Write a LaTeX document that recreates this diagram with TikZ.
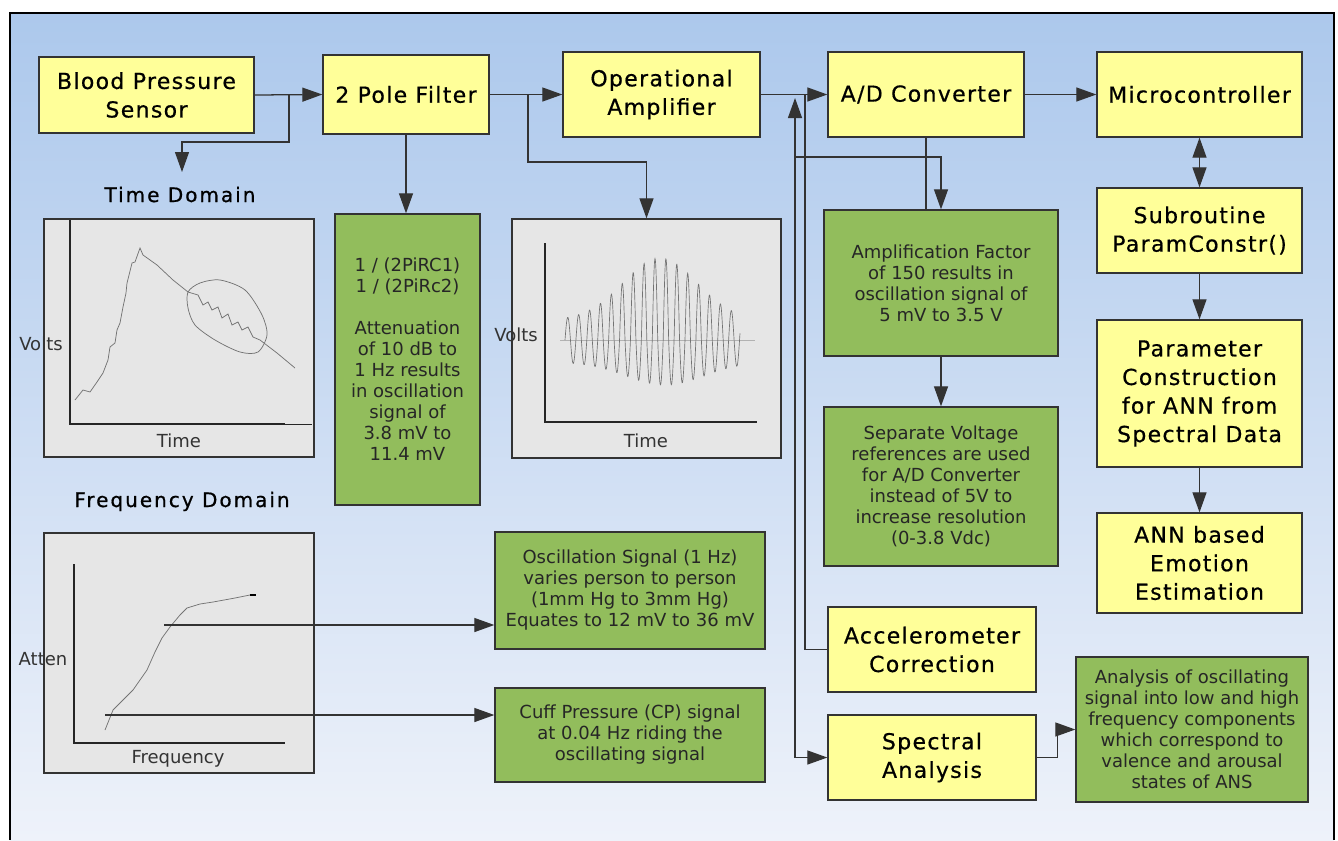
\documentclass[tikz,border=0pt]{standalone}
\usepackage{fontspec}
\setmainfont{DejaVu Sans}
\newfontfamily\blockfont[LetterSpace=6,FakeBold=0.6]{DejaVu Sans}
\newfontfamily\headfont[LetterSpace=10,FakeBold=0.8]{DejaVu Sans}
\usetikzlibrary{arrows.meta}
\definecolor{bgtop}{RGB}{172,200,236}
\definecolor{bgbot}{RGB}{238,242,250}
\definecolor{yellowbox}{RGB}{255,255,153}
\definecolor{greenbox}{RGB}{146,189,92}
\definecolor{plotgrey}{RGB}{230,230,230}
\definecolor{boxline}{RGB}{51,51,51}
\tikzset{
BLOCK/.style 2 args={draw=boxline, fill=yellowbox, line width=1pt, minimum width=#1*0.75pt, minimum height=#2*0.75pt, inner sep=0pt, align=center, font=\blockfont\fontsize{16.5}{21.4}\selectfont},
NOTE/.style 2 args={draw=boxline, fill=greenbox, line width=1pt, minimum width=#1*0.75pt, minimum height=#2*0.75pt, inner sep=0pt, align=center, text=black!85, font=\fontsize{13.5}{15.75}\selectfont},
PLOT/.style 2 args={draw=boxline, fill=plotgrey, line width=1pt, minimum width=#1*0.75pt, minimum height=#2*0.75pt, inner sep=0pt},
HEAD/.style={anchor=base, font=\headfont\fontsize{15}{18}\selectfont},
LABEL/.style={anchor=base, text=boxline, font=\fontsize{13.5}{16}\selectfont},
WIRE/.style={draw=black!80, line width=0.95pt},
ARROW/.style={WIRE, -{Triangle[length=15pt,width=10.5pt]}},
BOTH/.style={WIRE, {Triangle[length=15pt,width=10.5pt]}-{Triangle[length=15pt,width=10.5pt]}},
AXIS/.style={draw=black!85, line width=1pt},
CURVE/.style={draw=black!55, line width=0.55pt},
}

\begin{document}
\begin{tikzpicture}[x=0.75pt, y=-0.75pt] %pressure sensor to emotion estimate
	\useasboundingbox (0,0) rectangle (1338,840);
	\shade[top color=bgtop, bottom color=bgbot] (10,13) rectangle (1334,840);
	\path[draw=black, line width=2pt] (10,840) -- (10,13) -- (1334,13) -- (1334,840);
	% plots
	\node[PLOT={270}{238}] (tplot) at (179,338) {};
	\node[PLOT={269}{239}] (oplot) at (646.5,338.5) {};
	\node[PLOT={270}{240}] (fplot) at (179,653) {};
	\path[AXIS] (70,220) -- (70,424) -- (285,424);
	\path[AXIS, line width=0.6pt] (285,424) -- (312,424);
	\path[AXIS] (545,243) -- (545,422) -- (757,422);
	\path[AXIS] (74,564) -- (74,743) -- (285,743);
	\path[CURVE] (75,400) -- (83,390) -- (90,392) -- (97,382) -- (103,373) -- (108,360) -- (110,347) -- (115,343) -- (117,330) -- (120,323) -- (123,307) -- (126,293) -- (127,283) -- (132,263) -- (135,262) -- (140,248) -- (143,255) -- (157,265) -- (173,280) -- (188,292);
	\path[CURVE] (188,292) -- (198,295) -- (203,305) -- (208,302) -- (212,310) -- (218,307) -- (222,318) -- (228,314) -- (232,325) -- (238,322) -- (242,330) -- (248,327) -- (253,337) -- (260,340) -- (277,353) -- (295,368);
	\path[CURVE] plot[smooth cycle] coordinates {(188,292) (200,283) (220,280) (245,290) (262,315) (267,335) (258,352) (240,352) (215,340) (195,325) (188,308)};
	\path[draw=black!30, line width=0.4pt] (560,340) -- (755,340);
	\path[CURVE, line width=0.5pt] plot[domain=565:740, samples=600] (\x, {340 - sin(33*(\x-565))*(sin(33*(\x-565)) > 0 ? 20+62*exp(-((\x-660)/52)*((\x-660)/52)) : 22+23*exp(-((\x-665)/55)*((\x-665)/55)))});
	\path[CURVE] (105,730) -- (113,710) -- (125,698) -- (133,690) -- (140,680) -- (147,670) -- (155,652) -- (162,638) -- (170,627) -- (180,615) -- (187,608) -- (200,604) -- (213,602) -- (235,598) -- (250,595);
	\path[draw=black, line width=1pt] (250,595) -- (256,595);
	\node[LABEL] (tvolts) at (41,350) {Volts};
	\node[LABEL] (ttime) at (179,447) {Time};
	\node[LABEL] (ovolts) at (516,341) {Volts};
	\node[LABEL] (otime) at (646,447) {Time};
	\node[LABEL] (fatten) at (43,665) {Atten};
	\node[LABEL] (ffreq) at (178,763) {Frequency};
	\node[HEAD] (thead) at (180,202) {Time Domain};
	\node[HEAD] (fhead) at (182,507) {Frequency Domain};
	% blocks
	\node[BLOCK={215}{76}] (bps) at (146.5,95) {Blood Pressure\\Sensor};
	\node[BLOCK={166}{79}] (filter) at (406,94.5) {2 Pole Filter};
	\node[BLOCK={197}{85}] (opamp) at (661.5,94.5) {Operational\\Amplifier};
	\node[BLOCK={196}{85}] (adc) at (926,94.5) {A/D Converter};
	\node[BLOCK={205}{85}] (micro) at (1199.5,94.5) {Microcontroller};
	\node[BLOCK={205}{85}] (subr) at (1199.5,230.5) {Subroutine\\ParamConstr()};
	\node[BLOCK={205}{147}] (param) at (1199.5,393.5) {Parameter\\Construction\\for ANN from\\Spectral Data};
	\node[BLOCK={205}{100}] (ann) at (1199.5,563) {ANN based\\Emotion\\Estimation};
	\node[BLOCK={208}{85}] (accel) at (932,649.5) {Accelerometer\\Correction};
	\node[BLOCK={208}{85}] (spec) at (932,757.5) {Spectral\\Analysis};
	% notes
	\node[NOTE={145}{291}] (atten) at (407.5,359.5) {1 / (2PiRC1)\\1 / (2PiRc2)\\[15.75pt]Attenuation\\of 10 dB to\\1 Hz results\\in oscillation\\signal of\\3.8 mV to\\11.4 mV};
	\node[NOTE={234}{146}] (ampf) at (941,283) {Amplification Factor\\of 150 results in\\oscillation signal of\\5 mV to 3.5 V};
	\node[NOTE={234}{159}] (vref) at (941,486.5) {Separate Voltage\\references are used\\for A/D Converter\\instead of 5V to\\increase resolution\\(0-3.8 Vdc)};
	\node[NOTE={270}{117}] (osc) at (630,590.5) {Oscillation Signal (1 Hz)\\varies person to person\\(1mm Hg to 3mm Hg)\\Equates to 12 mV to 36 mV};
	\node[NOTE={270}{94}] (cuff) at (630,735) {Cuff Pressure (CP) signal\\at 0.04 Hz riding the\\oscillating signal};
	\node[NOTE={232}{145}] (bands) at (1192,729.5) {Analysis of oscillating\\signal into low and high\\frequency components\\which correspond to\\valence and arousal\\states of ANS};
	% wires
	\coordinate (bpstap) at (289,95);
	\coordinate (tdtip) at (182,172);
	\coordinate (fltap) at (528,94.5);
	\coordinate (busA) at (795,98);
	\coordinate (tapA) at (795,157);
	\coordinate (tapB) at (805,94.5);
	\coordinate (oscsrc) at (164,625);
	\coordinate (cuffsrc) at (105,715);
	\path[ARROW] (bps.east) -- (filter.west);
	\path[ARROW] (bpstap) -- ++(0,47) -| (tdtip);
	\path[ARROW] (filter.east) -- (opamp.west);
	\path[ARROW] (fltap) -- ++(0,67.5) -| (oplot.north);
	\path[ARROW] (filter.south) -- (filter.south |- atten.north);
	\path[ARROW] (opamp.east) -- (adc.west);
	\path[BOTH] (busA) |- (spec.west);
	\path[ARROW] (tapA) -| (ampf.north);
	\path[WIRE] (adc.south) -- (adc.south |- ampf.north);
	\path[WIRE] (tapB) |- (accel.west);
	\path[ARROW] (ampf.south) -- (vref.north);
	\path[ARROW] (adc.east) -- (micro.west);
	\path[BOTH] (micro.south) -- (subr.north);
	\path[ARROW] (subr.south) -- (param.north);
	\path[ARROW] (param.south) -- (ann.north);
	\path[ARROW] (spec.east) -- ++(21,0) |- (bands.west);
	\path[ARROW] (oscsrc) -- (oscsrc -| osc.west);
	\path[ARROW] (cuffsrc) -- (cuffsrc -| cuff.west);
\end{tikzpicture}
\end{document}
